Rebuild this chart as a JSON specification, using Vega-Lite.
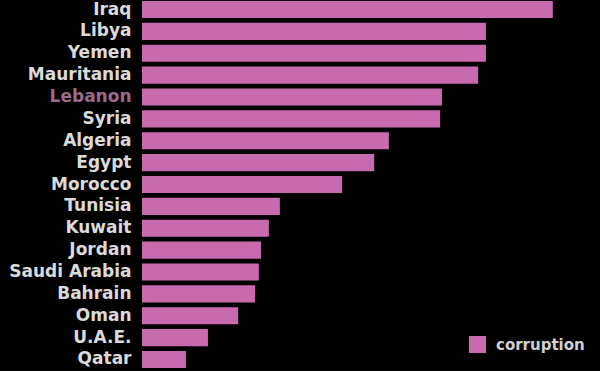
{
  "$schema": "https://vega.github.io/schema/vega-lite/v6.json",
  "width": 458,
  "height": 367,
  "padding": 0,
  "background": "#000000",
  "data": {
    "values": [
      {"country": "Iraq", "value": 89.7, "series": "corruption"},
      {"country": "Libya", "value": 75.1, "series": "corruption"},
      {"country": "Yemen", "value": 75.1, "series": "corruption"},
      {"country": "Mauritania", "value": 73.4, "series": "corruption"},
      {"country": "Lebanon", "value": 65.5, "series": "corruption"},
      {"country": "Syria", "value": 65.1, "series": "corruption"},
      {"country": "Algeria", "value": 53.9, "series": "corruption"},
      {"country": "Egypt", "value": 50.7, "series": "corruption"},
      {"country": "Morocco", "value": 43.7, "series": "corruption"},
      {"country": "Tunisia", "value": 30.1, "series": "corruption"},
      {"country": "Kuwait", "value": 27.7, "series": "corruption"},
      {"country": "Jordan", "value": 26.0, "series": "corruption"},
      {"country": "Saudi Arabia", "value": 25.5, "series": "corruption"},
      {"country": "Bahrain", "value": 24.7, "series": "corruption"},
      {"country": "Oman", "value": 21.0, "series": "corruption"},
      {"country": "U.A.E.", "value": 14.4, "series": "corruption"},
      {"country": "Qatar", "value": 9.6, "series": "corruption"}
    ]
  },
  "config": {
    "view": {"stroke": null},
    "font": "DejaVu Sans"
  },
  "mark": {"type": "bar"},
  "encoding": {
    "y": {
      "field": "country",
      "type": "nominal",
      "sort": null,
      "scale": {"paddingInner": 0.22, "paddingOuter": 0},
      "axis": {
        "title": null,
        "ticks": false,
        "domain": false,
        "labelPadding": 11,
        "minExtent": 142,
        "maxExtent": 142,
        "labelFont": "DejaVu Sans",
        "labelFontWeight": "bold",
        "labelFontSize": 17,
        "labelColor": {"condition": {"test": "datum.value == 'Lebanon'", "value": "#9a6a8d"}, "value": "#dadada"}
      }
    },
    "x": {
      "field": "value",
      "type": "quantitative",
      "scale": {"domain": [0, 100]},
      "axis": {
        "title": null,
        "labels": false,
        "ticks": false,
        "grid": false,
        "domain": true,
        "domainColor": "#333333",
        "offset": 3
      }
    },
    "color": {
      "field": "series",
      "type": "nominal",
      "scale": {"range": ["#c86aae"]},
      "legend": {
        "title": null,
        "orient": "none",
        "legendX": 327,
        "legendY": 335,
        "padding": 0,
        "symbolType": "square",
        "symbolSize": 289,
        "symbolStrokeWidth": 0,
        "symbolOpacity": 1,
        "labelOffset": 10,
        "labelFont": "DejaVu Sans",
        "labelFontWeight": "bold",
        "labelFontSize": 15,
        "labelColor": "#d0d0d0"
      }
    }
  }
}
